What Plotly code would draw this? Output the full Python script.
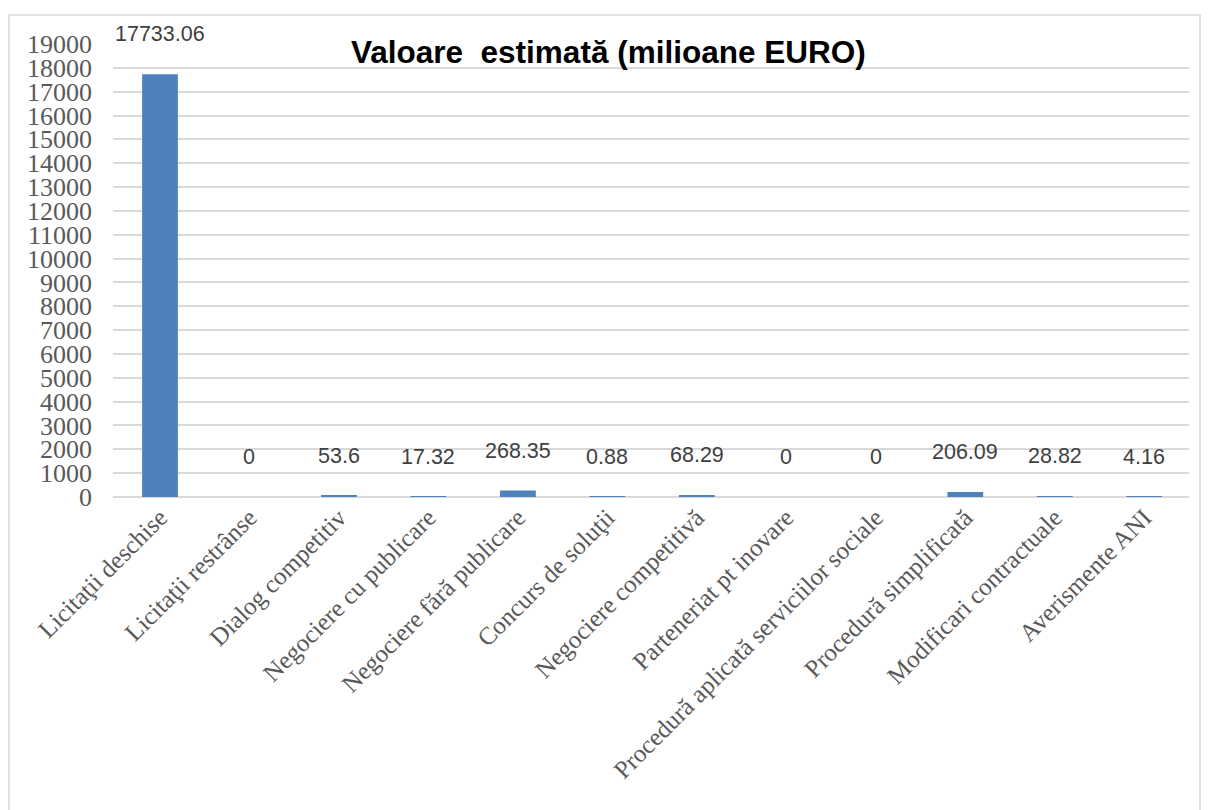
import plotly.graph_objects as go

categories = [
    "Licitaţii deschise",
    "Licitaţii restrânse",
    "Dialog competitiv",
    "Negociere cu publicare",
    "Negociere fără publicare",
    "Concurs de soluţii",
    "Negociere competitivă",
    "Parteneriat pt inovare",
    "Procedură aplicată serviciilor sociale",
    "Procedură simplificată",
    "Modificari contractuale",
    "Averismente ANI",
]
values = [17733.06, 0, 53.6, 17.32, 268.35, 0.88, 68.29, 0, 0, 206.09, 28.82, 4.16]
value_labels = ["17733.06", "0", "53.6", "17.32", "268.35", "0.88", "68.29", "0", "0", "206.09", "28.82", "4.16"]
y_ticks = list(range(0, 19001, 1000))
title_text = "Valoare\u00a0\u00a0estimată (milioane EURO)"

# page body has an 8px margin, so the figure is drawn offset by 8px
W, H = 1201, 802
ml, mr, mt, mb = 105, 20, 36, 313

fig = go.Figure()
fig.add_trace(go.Bar(
    x=categories, y=values,
    marker=dict(color="#4F81BD", line=dict(width=0)),
    width=0.4,
    hoverinfo="x+y",
))

for c, v, t in zip(categories, values, value_labels):
    fig.add_annotation(
        x=c, y=v, text=t, showarrow=False, yshift=40, yanchor="middle",
        font=dict(family="Liberation Sans, Arial, sans-serif", size=21.5, color="#404040"),
    )

pw = W - ml - mr
ph = H - mt - mb
fig.add_annotation(
    xref="paper", yref="paper", x=(600 - ml) / pw, y=1 + (mt - 44) / ph,
    text="<b>" + title_text + "</b>", showarrow=False, xanchor="center", yanchor="middle",
    font=dict(family="Liberation Sans, Arial, sans-serif", size=31.5, color="#000000"),
)

fig.add_shape(
    type="rect", xref="paper", yref="paper",
    x0=(1 - ml) / pw, x1=(1192 - ml) / pw,
    y0=-(H + 20 - mt - ph) / ph, y1=1 + (mt - 7) / ph,
    line=dict(color="#D9D9D9", width=1.5), fillcolor="rgba(0,0,0,0)", layer="below",
)

fig.update_layout(
    width=W, height=H,
    margin=dict(l=ml, r=mr, t=mt, b=mb, autoexpand=False),
    paper_bgcolor="white", plot_bgcolor="white",
    showlegend=False,
    bargap=0.6,
    xaxis=dict(
        tickangle=-45,
        tickfont=dict(family="Liberation Serif, Times New Roman, serif", size=25, color="#595959"),
        showgrid=False, showline=False, ticks="",
    ),
    yaxis=dict(
        range=[0, 19000],
        tickvals=y_ticks,
        ticktext=[str(t) for t in y_ticks],
        tickfont=dict(family="Liberation Serif, Times New Roman, serif", size=26, color="#595959"),
        showgrid=True, gridcolor="#D9D9D9", gridwidth=1.5,
        zeroline=True, zerolinecolor="#D9D9D9", zerolinewidth=1.5,
        showline=False, ticks="", ticklabelstandoff=20,
    ),
)

fig.write_html("out.html")
